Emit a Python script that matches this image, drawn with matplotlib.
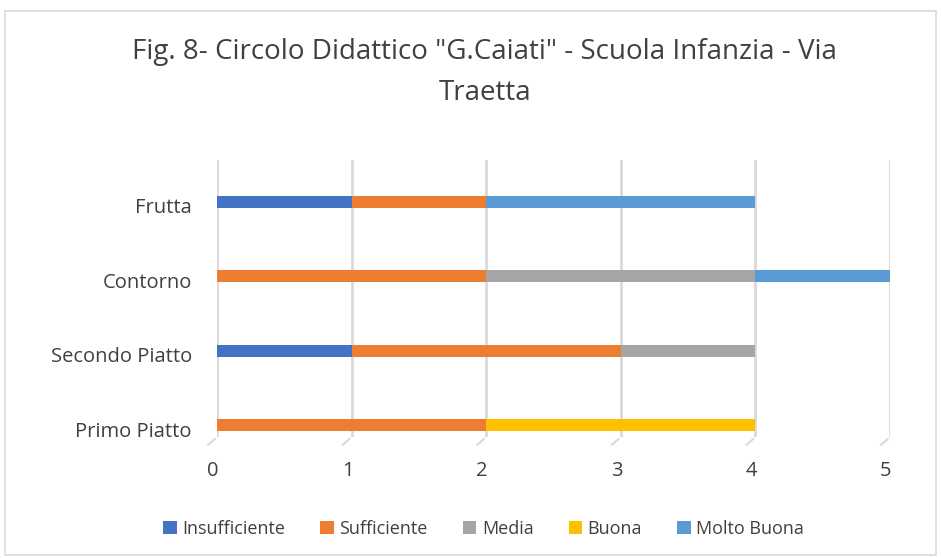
import numpy as np
import matplotlib.pyplot as plt
from matplotlib.patches import Rectangle
from matplotlib.transforms import ScaledTranslation

plt.rcParams['font.family'] = ['Open Sans', 'DejaVu Sans']

categories = ['Primo Piatto', 'Secondo Piatto', 'Contorno', 'Frutta']
series = ['Insufficiente', 'Sufficiente', 'Media', 'Buona', 'Molto Buona']
insufficiente = [0, 1, 0, 1]
sufficiente = [2, 2, 2, 1]
media = [0, 1, 2, 0]
buona = [2, 0, 0, 0]
molto_buona = [0, 0, 1, 2]
colors = ['#4472C4', '#ED7D31', '#A5A5A5', '#FFC000', '#5B9BD5']

values = [insufficiente, sufficiente, media, buona, molto_buona]

fig = plt.figure(figsize=(9.41, 5.58), dpi=100)
ax = fig.add_axes([0.2306, 0.2168, 0.7152, 0.4965])

y = np.arange(len(categories))
left = np.zeros(len(categories))
for name, vals, col in zip(series, values, colors):
    vals = np.array(vals, dtype=float)
    ax.barh(y, vals, left=left, height=0.16, color=col, label=name,
            edgecolor='none', zorder=3)
    left += vals

ax.set_xlim(0, 5)
ax.set_ylim(-0.161, 3.565)
ax.set_xticks(range(6))
ax.set_yticks(y)
ax.set_yticklabels(categories)
ax.tick_params(length=0, labelsize=14.5, colors='#404040')
ax.tick_params(axis='x', pad=17)
ax.tick_params(axis='y', pad=18)
shift = ScaledTranslation(-4 / 100, 0, fig.dpi_scale_trans)
for lbl in ax.get_xticklabels():
    lbl.set_transform(lbl.get_transform() + shift)
shift_y = ScaledTranslation(0, -4 / 100, fig.dpi_scale_trans)
for lbl in ax.get_yticklabels():
    lbl.set_transform(lbl.get_transform() + shift_y)
ax.grid(axis='x', color='#d9d9d9', linewidth=2, zorder=0)
for s in ax.spines.values():
    s.set_visible(False)

# little slanted feet under gridlines (3D floor look)
for xv in range(6):
    ax.annotate('', xy=(xv, 0), xycoords=('data', 'axes fraction'),
                xytext=(-8, -7), textcoords='offset points',
                arrowprops=dict(arrowstyle='-', color='#d9d9d9', lw=1.5))

fig.text(0.515, 0.870,
         'Fig. 8- Circolo Didattico "G.Caiati" - Scuola Infanzia - Via\nTraetta',
         ha='center', va='center', fontsize=20, color='#404040',
         linespacing=1.6)

fig.legend(loc='center', bbox_to_anchor=(0.514, 0.052), ncol=5, frameon=False,
           fontsize=13, handlelength=0.75, handleheight=0.75, handletextpad=0.3,
           columnspacing=1.95, labelcolor='#404040')

fig.patches.append(Rectangle((0.005, 0.005), 0.99, 0.975, transform=fig.transFigure,
                             fill=False, edgecolor='#d9d9d9', linewidth=1.2))

fig.savefig('out.png', dpi=100)
